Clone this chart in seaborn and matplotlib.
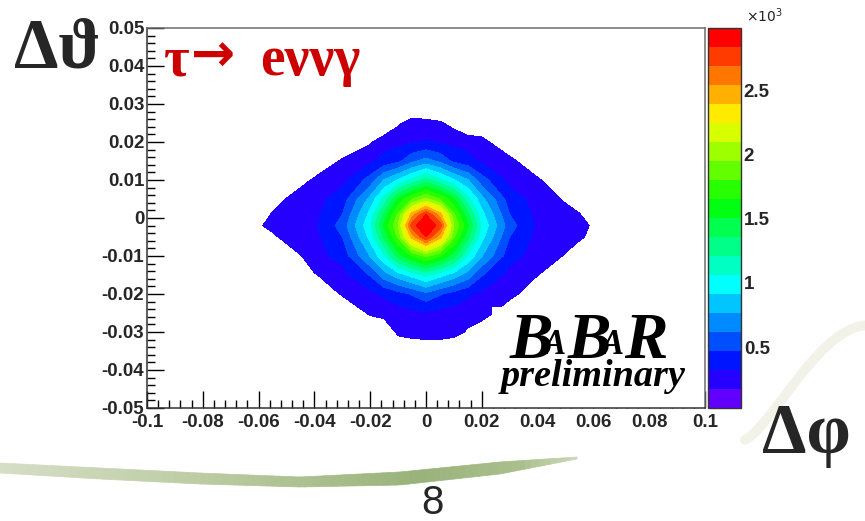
import numpy as np
import pandas as pd
import seaborn as sns
import matplotlib
matplotlib.use('Agg')
import matplotlib.pyplot as plt
from matplotlib.colors import ListedColormap, BoundaryNorm, hsv_to_rgb
from matplotlib.cm import ScalarMappable
from matplotlib.collections import PolyCollection
from matplotlib.lines import Line2D
from matplotlib.patches import Rectangle
from matplotlib.ticker import MultipleLocator

# Delta phi bin centres (columns) and Delta theta bin centres (rows)
dphi = [-0.065, -0.06, -0.055, -0.05, -0.04, -0.03, -0.02, -0.015, -0.01, -0.005, 0.0,
        0.005, 0.01, 0.015, 0.02, 0.03, 0.04, 0.05, 0.055, 0.06, 0.065]
dtheta = [0.030, 0.025, 0.020, 0.015, 0.010, 0.005, 0.001, -0.002,
          -0.005, -0.010, -0.015, -0.020, -0.025, -0.030, -0.035]

# entries per bin, estimated from the colour bands
counts = [
    [0, 0, 0, 0, 0, 0, 0, 0, 0, 0, 0, 0, 0, 0, 0, 0, 0, 0, 0, 0, 0],
    [0, 0, 0, 0, 0, 0, 0, 0, 150, 230, 215, 190, 120, 0, 0, 0, 0, 0, 0, 0, 0],
    [0, 0, 0, 0, 0, 0, 154, 265, 280, 305, 330, 305, 280, 265, 235, 0, 0, 0, 0, 0, 0],
    [0, 0, 0, 0, 0, 200, 294, 370, 430, 580, 668, 580, 430, 370, 294, 230, 0, 0, 0, 0, 0],
    [0, 0, 0, 0, 200, 278, 528, 772, 924, 1092, 1265, 1092, 924, 772, 528, 278, 200, 0, 0, 0, 0],
    [0, 0, 0, 180, 267, 390, 813, 1104, 1525, 1788, 1980, 1788, 1525, 1104, 813, 390, 267, 150, 0, 0, 0],
    [0, 0, 200, 230, 278, 468, 958, 1391, 1822, 2452, 2830, 2452, 1822, 1391, 958, 468, 278, 230, 185, 0, 0],
    [0, 150, 225, 245, 290, 530, 1030, 1530, 1950, 2780, 2980, 2780, 1950, 1530, 1030, 530, 290, 245, 225, 150, 0],
    [0, 0, 135, 230, 278, 468, 958, 1391, 1822, 2452, 2830, 2452, 1822, 1391, 958, 468, 278, 230, 215, 100, 0],
    [0, 0, 0, 61, 263, 374, 772, 1036, 1410, 1668, 1836, 1668, 1410, 1036, 772, 374, 263, 161, 0, 0, 0],
    [0, 0, 0, 0, 160, 269, 480, 695, 836, 965, 1090, 965, 836, 695, 480, 269, 178, 0, 0, 0, 0],
    [0, 0, 0, 0, 0, 192, 285, 342, 410, 483, 576, 483, 410, 342, 285, 247, 0, 0, 0, 0, 0],
    [0, 0, 0, 0, 0, 0, 200, 245, 260, 280, 300, 280, 260, 250, 290, 0, 0, 0, 0, 0, 0],
    [0, 0, 0, 0, 0, 0, 0, 0, 216, 260, 285, 285, 240, 150, 0, 0, 0, 0, 0, 0, 0],
    [0, 0, 0, 0, 0, 0, 0, 0, 0, 0, 0, 0, 0, 0, 0, 0, 0, 0, 0, 0, 0],
]

z_min, z_max = 25, 2985
n_levels = 20

x_ticks = [-0.1, -0.08, -0.06, -0.04, -0.02, 0, 0.02, 0.04, 0.06, 0.08, 0.1]
x_tick_labels = ['-0.1', '-0.08', '-0.06', '-0.04', '-0.02', '0', '0.02', '0.04', '0.06', '0.08', '0.1']
y_ticks = [-0.05, -0.04, -0.03, -0.02, -0.01, 0, 0.01, 0.02, 0.03, 0.04, 0.05]
y_tick_labels = ['-0.05', '-0.04', '-0.03', '-0.02', '-0.01', '0', '0.01', '0.02', '0.03', '0.04', '0.05']
cbar_ticks = [500, 1000, 1500, 2000, 2500]
cbar_tick_labels = ['0.5', '1', '1.5', '2', '2.5']

sns.set_theme(style='ticks')
plt.rcParams['font.family'] = ['Liberation Sans Narrow', 'Liberation Sans', 'DejaVu Sans']
plt.rcParams['axes.unicode_minus'] = False

df = pd.DataFrame(counts, index=dtheta, columns=dphi)

# ROOT-like rainbow palette, violet -> red
levels = np.linspace(z_min, z_max, n_levels + 1)
palette = [tuple(hsv_to_rgb((h, 1.0, 1.0))) for h in np.linspace(0.73, 0.0, n_levels)]
cmap = ListedColormap(palette)
norm = BoundaryNorm(levels, n_levels)

W, H = 865, 521
fig = plt.figure(figsize=(W / 100, H / 100), dpi=100)
fig.patch.set_facecolor('white')

ax = fig.add_axes([147 / W, 1 - 408 / H, 558 / W, 380 / H])
ax.set_facecolor('white')
ax.contourf(df.columns, df.index, df.values, levels=levels[1:], colors=palette[1:], zorder=1)
ax.set_xlim(-0.1, 0.1)
ax.set_ylim(-0.05, 0.05)

# white box behind the logo
ax.add_patch(Rectangle((0.0237, -0.05), 0.0763, 0.0266, facecolor='white',
                       edgecolor='none', zorder=1.5))

ax.set_xticks(x_ticks)
ax.set_xticklabels(x_tick_labels, fontweight='bold')
ax.set_yticks(y_ticks)
ax.set_yticklabels(y_tick_labels, fontweight='bold')
ax.xaxis.set_minor_locator(MultipleLocator(0.004))
ax.yaxis.set_minor_locator(MultipleLocator(0.002))
ax.tick_params(which='both', direction='in', top=False, right=False, color='black', width=1)
ax.tick_params(which='major', length=12, labelsize=13.5, pad=2)
ax.tick_params(which='minor', length=6)
ax.tick_params(axis='x', which='major', pad=4)
for side, sp in ax.spines.items():
    sp.set_linewidth(1.1)
    sp.set_color('#333333' if side in ('left', 'bottom') else '#6e6e6e')

cax = fig.add_axes([708 / W, 1 - 408 / H, 33 / W, 380 / H])
cb = fig.colorbar(ScalarMappable(norm=norm, cmap=cmap), cax=cax, ticks=cbar_ticks)
cb.set_ticklabels(cbar_tick_labels)
cb.outline.set_edgecolor('#333333')
cb.outline.set_linewidth(1)
cax.minorticks_off()
cax.tick_params(direction='in', length=12, width=1, labelsize=13.5, pad=2, color='black')
for t in cax.get_yticklabels():
    t.set_fontweight('bold')
fig.text(746 / W, 1 - 22 / H, r'$\times10^{3}$', fontsize=10, color='#222222')

serif = ['Liberation Serif', 'DejaVu Serif']
fig.text(14 / W, 1 - 67 / H, 'Δϑ', fontsize=51, fontweight='bold', family=serif)
fig.text(762 / W, 1 - 453 / H, 'Δφ', fontsize=51, fontweight='bold', family=serif)
red = '#cc0000'
fig.text(164 / W, 1 - 75 / H, 'τ', fontsize=40, fontweight='bold', color=red, family=serif)
fig.text(191 / W, 1 - 71 / H, '→', fontsize=38, fontweight='bold', color=red,
         family=['DejaVu Sans'])
fig.text(260 / W, 1 - 75 / H, 'eννγ', fontsize=40, fontweight='bold', color=red, family=serif)

# BaBar logo
logo = dict(fontweight='bold', style='italic', family=serif, color='black', zorder=5)
fig.text(510 / W, 1 - 358 / H, 'B', fontsize=47, **logo)
fig.text(543 / W, 1 - 354 / H, 'A', fontsize=25, **logo)
fig.text(568 / W, 1 - 358 / H, 'B', fontsize=47, **logo)
fig.text(601 / W, 1 - 354 / H, 'A', fontsize=25, **logo)
fig.text(624 / W, 1 - 358 / H, 'R', fontsize=47, **logo)
fig.text(501 / W, 1 - 386 / H, 'preliminary', fontsize=27.5, **logo)

# slide decoration: green swoosh and faint arc
ux = [0, 100, 200, 300, 400, 500, 577]
uy = [463, 468, 473, 477, 472, 462, 457]
ly = [473, 479, 484, 487, 485, 474, 459]
sx = np.linspace(0, 577, 90)
top = np.interp(sx, ux, uy)
bot = np.interp(sx, ux, ly)
cx = [0, 200, 420, 520, 577]
cr = [0.84, 0.74, 0.60, 0.66, 0.80]
cg = [0.87, 0.80, 0.70, 0.75, 0.85]
cbl = [0.78, 0.64, 0.48, 0.55, 0.72]
polys, cols = [], []
for i in range(len(sx) - 1):
    x0, x1 = sx[i] / W, sx[i + 1] / W
    polys.append([(x0, 1 - top[i] / H), (x1, 1 - top[i + 1] / H),
                  (x1, 1 - bot[i + 1] / H), (x0, 1 - bot[i] / H)])
    xm = 0.5 * (sx[i] + sx[i + 1])
    cols.append((np.interp(xm, cx, cr), np.interp(xm, cx, cg), np.interp(xm, cx, cbl)))
fig.add_artist(PolyCollection(polys, facecolors=cols, edgecolors=cols, linewidths=0.5,
                              transform=fig.transFigure))
arc_t = np.linspace(0, 1, 40)
arc_x = 745 + 125 * arc_t
arc_y = 440 - 115 * np.sin(arc_t * np.pi / 2) ** 1.3
fig.add_artist(Line2D(arc_x / W, 1 - arc_y / H, color='#f3f2e8', linewidth=7,
                      transform=fig.transFigure, zorder=0))

fig.text(0.5, 1 - 514 / H, '8', fontsize=29, ha='center',
         family=['Liberation Sans Narrow', 'Liberation Sans', 'DejaVu Sans'])

fig.savefig('out.png', dpi=100, facecolor='white')
